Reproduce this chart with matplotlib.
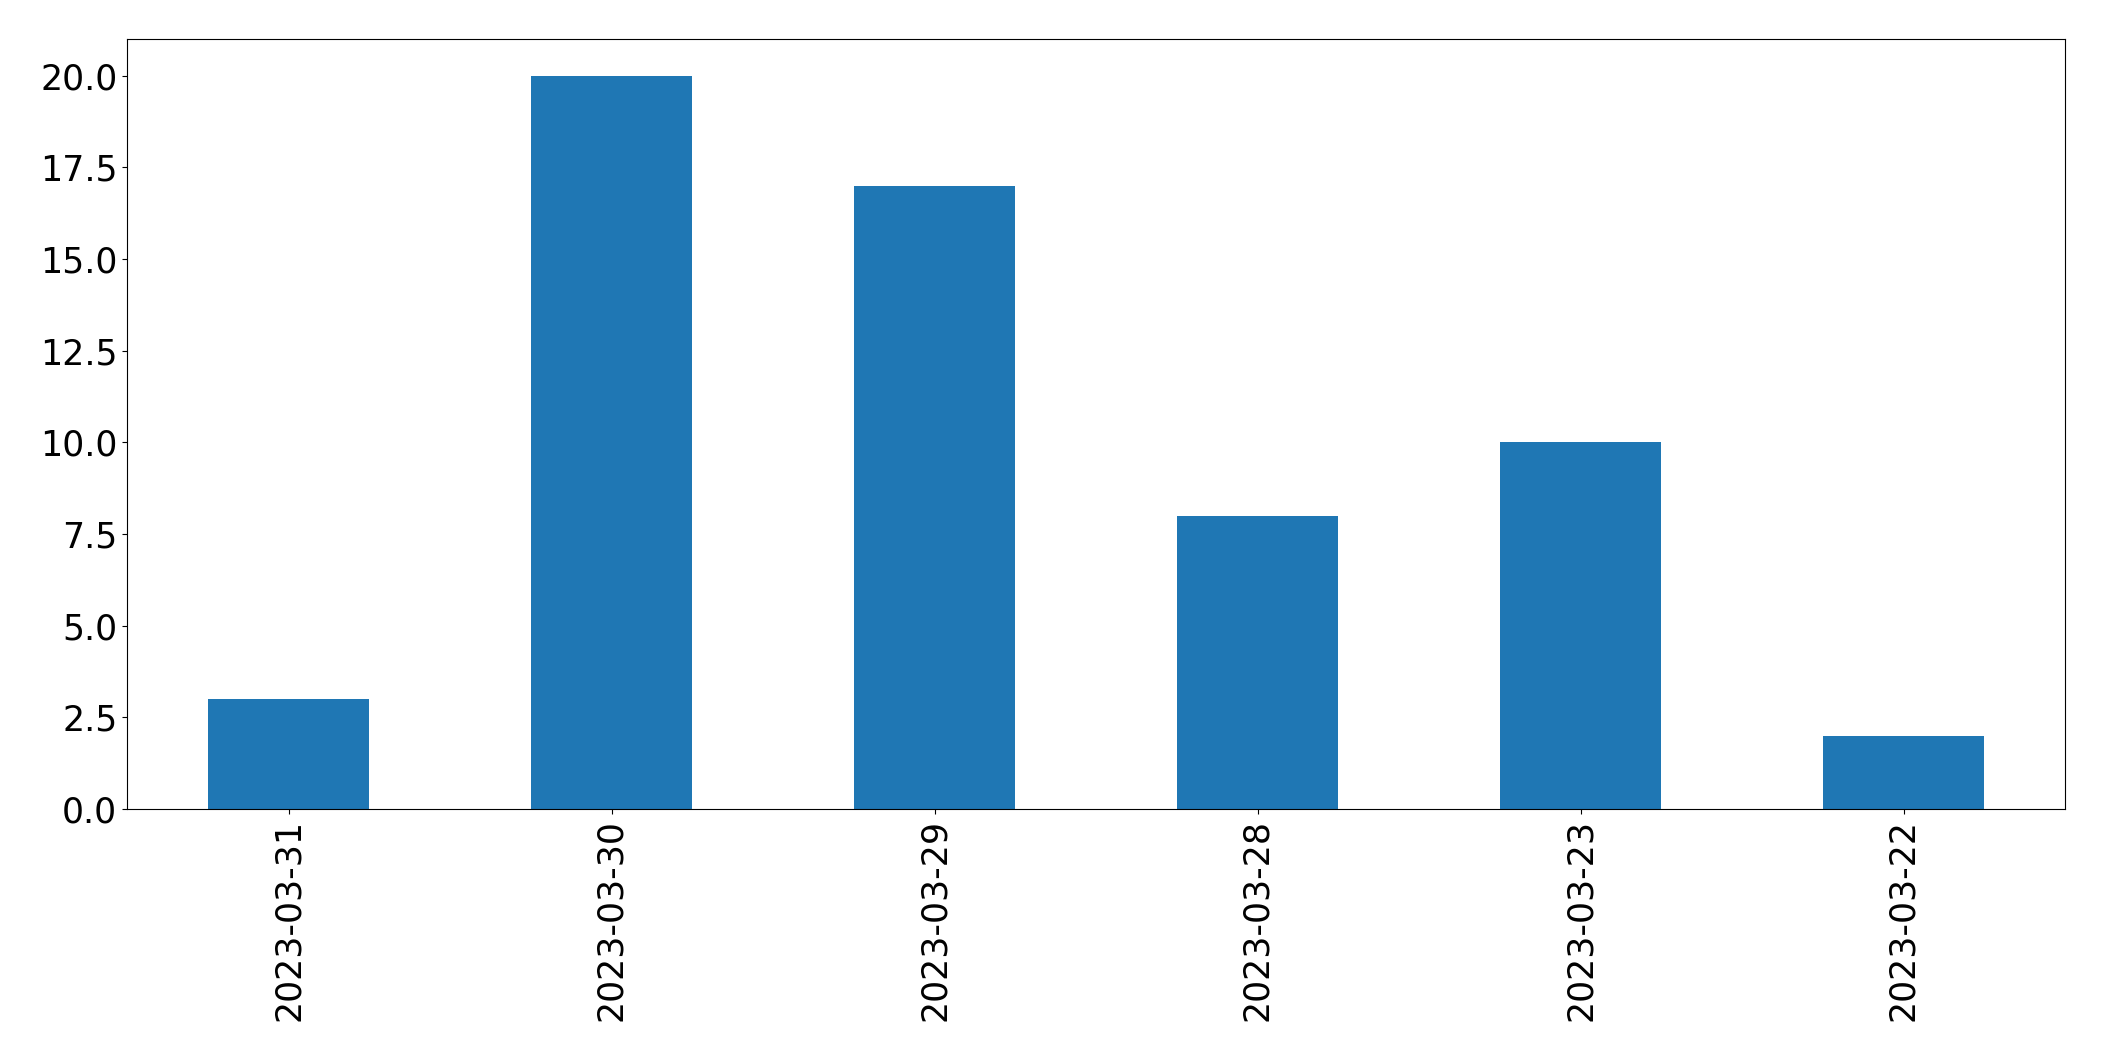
import matplotlib
matplotlib.use("Agg")
import matplotlib.pyplot as plt
import pandas as pd

dates = ["2023-03-31", "2023-03-30", "2023-03-29", "2023-03-28", "2023-03-23", "2023-03-22"]
counts = [3, 20, 17, 8, 10, 2]

s = pd.Series(counts, index=dates)

fig = plt.figure(figsize=(21.04, 10.61), dpi=100)
ax = fig.add_axes([127 / 2104, 1 - 809 / 1061, (2065 - 127) / 2104, (809 - 39) / 1061])
s.plot(kind="bar", ax=ax, color="#1f77b4")
ax.tick_params(axis="both", labelsize=25)

fig.savefig("out.png", dpi=100)
